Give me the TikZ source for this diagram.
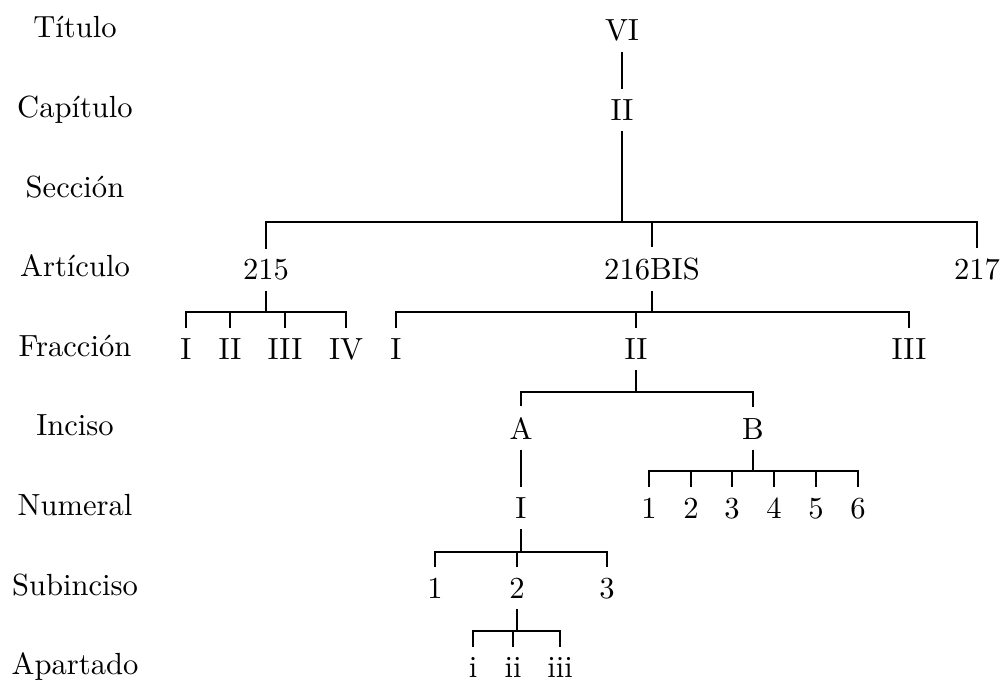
\documentclass[tikz,border=0pt]{standalone}
\usepackage{tikz}

\begin{document}
\begin{tikzpicture}[x=0.327pt,y=-0.327pt,
  lvl/.style={anchor=base},
  item/.style={anchor=base}
]
  \useasboundingbox (0,0) rectangle (1001,681);
  % niveles
  \foreach \name [count=\i from 0] in {Título,Capítulo,Sección,Artículo,Fracción,Inciso,Numeral,Subinciso,Apartado}
    \node[lvl] (lv\i) at (75,{38+79.6*\i}) {\name};
  % arbol
  \node[item] (tit) at (622,41) {VI};
  \node[item] (cap) at (622,120.6) {II};
  \node[item] (a215) at (266,279.8) {215};
  \node[item] (a216) at (652,279.8) {216BIS};
  \node[item] (a217) at (977,279.8) {217};
  \node[item] (f1) at (186,359.4) {I};
  \node[item] (f2) at (230,359.4) {II};
  \node[item] (f3) at (285,359.4) {III};
  \node[item] (f4) at (346,359.4) {IV};
  \node[item] (g1) at (396,359.4) {I};
  \node[item] (g2) at (636,359.4) {II};
  \node[item] (g3) at (909,359.4) {III};
  \node[item] (incA) at (521,439) {A};
  \node[item] (incB) at (753,439) {B};
  \node[item] (numI) at (521,518.6) {I};
  \foreach \x [count=\k] in {649,691,732,774,816,858}
    \node[item] (b\k) at (\x,518.6) {\k};
  \node[item] (s1) at (435,598.2) {1};
  \node[item] (s2) at (517,598.2) {2};
  \node[item] (s3) at (607,598.2) {3};
  \node[item] (ap1) at (473,677.8) {i};
  \node[item] (ap2) at (513,677.8) {ii};
  \node[item] (ap3) at (560,677.8) {iii};
  % alturas de las horquillas
  \coordinate (kArt) at (0,222);
  \coordinate (kFr) at (0,312);
  \coordinate (kInc) at (0,392);
  \coordinate (kNum) at (0,471);
  \coordinate (kSub) at (0,552);
  \coordinate (kAp) at (0,631);
  % ramas
  \draw (tit) -- (cap);
  \draw (incA) -- (numI);
  \foreach \c in {a215,a216,a217}
    \draw (cap.south) |- (\c.north |- kArt) -- (\c.north);
  \foreach \c in {f1,f2,f3,f4}
    \draw (a215.south) |- (\c.north |- kFr) -- (\c.north);
  \foreach \c in {g1,g2,g3}
    \draw (a216.south) |- (\c.north |- kFr) -- (\c.north);
  \foreach \c in {incA,incB}
    \draw (g2.south) |- (\c.north |- kInc) -- (\c.north);
  \foreach \c in {b1,b2,b3,b4,b5,b6}
    \draw (incB.south) |- (\c.north |- kNum) -- (\c.north);
  \foreach \c in {s1,s2,s3}
    \draw (numI.south) |- (\c.north |- kSub) -- (\c.north);
  \foreach \c in {ap1,ap2,ap3}
    \draw (s2.south) |- (\c.north |- kAp) -- (\c.north);
\end{tikzpicture}
\end{document}
